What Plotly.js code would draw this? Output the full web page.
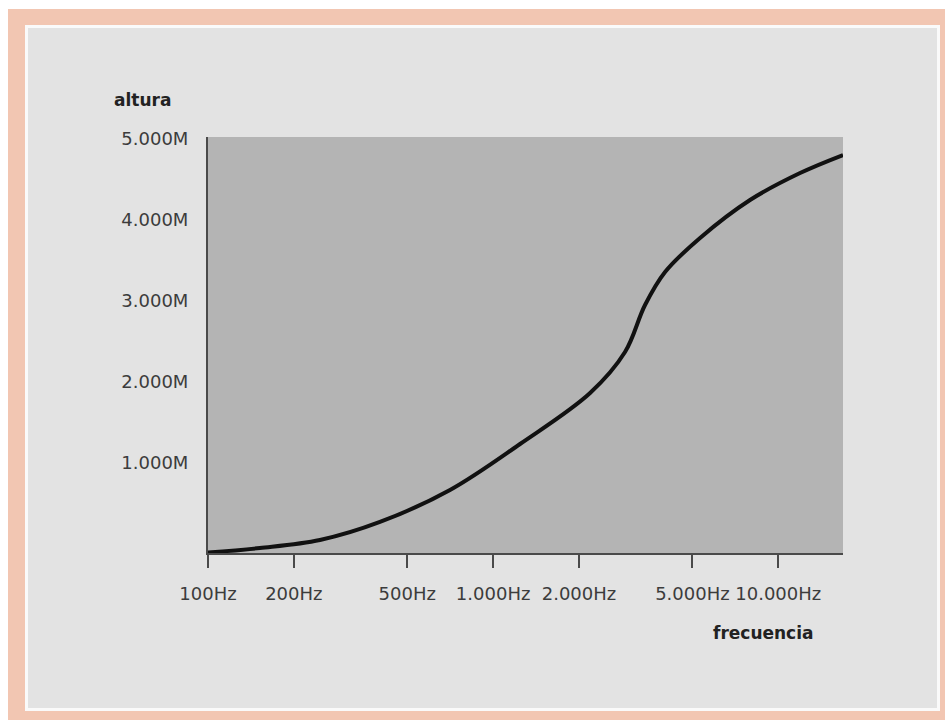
<!DOCTYPE html>
<html>
<head>
<meta charset="utf-8">
<script src="https://cdn.plot.ly/plotly-3.0.1.min.js"></script>
<style>
  html, body { margin: 0; padding: 0; background: #ffffff; }
  #chart { width: 945px; height: 720px; }
</style>
</head>
<body>
<div id="chart"></div>
<script>
// ---- Data ----
const frecuencia = [100, 152, 247, 401, 706, 1243, 2188, 2901, 3410, 4009, 5318, 7962, 11927, 16870];
const alturaM    = [-0.105, -0.049, 0.049, 0.272, 0.667, 1.235, 1.864, 2.370, 2.951, 3.358, 3.778, 4.247, 4.580, 4.802];

const xTickVals = [100, 200, 500, 1000, 2000, 5000, 10000];
const xTickText = ['100Hz', '200Hz', '500Hz', '1.000Hz', '2.000Hz', '5.000Hz', '10.000Hz'];
const yTickVals = [1, 2, 3, 4, 5];
const yTickText = ['1.000M', '2.000M', '3.000M', '4.000M', '5.000M'];

const xTitle = 'frecuencia';
const yTitle = 'altura';

// ---- Layout geometry (pixels) ----
const W = 945, H = 720;
const L = 208, R = 843, T = 137, B = 553;
const pw = R - L, ph = B - T;
const px = x => (x - L) / pw;
const py = y => (B - y) / ph;

function rect(x0, y0, x1, y1, color) {
  return {
    type: 'rect', xref: 'paper', yref: 'paper', layer: 'below',
    x0: px(x0), x1: px(x1), y0: py(y1), y1: py(y0),
    fillcolor: color, line: { width: 0 }
  };
}

const tickFont = { family: 'DejaVu Sans, sans-serif', size: 18, color: '#3c3c3c' };
const titleFont = { family: 'DejaVu Sans, sans-serif', size: 17, color: '#222222', weight: 'bold' };

const trace = {
  x: frecuencia,
  y: alturaM,
  type: 'scatter',
  mode: 'lines',
  line: { color: '#111111', width: 4, shape: 'spline', smoothing: 1 },
  hoverinfo: 'skip',
  showlegend: false
};

const layout = {
  width: W, height: H,
  margin: { l: L, r: W - R, t: T, b: H - B, pad: 0 },
  paper_bgcolor: '#ffffff',
  plot_bgcolor: '#b4b4b4',
  showlegend: false,
  xaxis: {
    type: 'log',
    range: [2, 4.2271],
    tickvals: xTickVals, ticktext: xTickText,
    showline: true, linecolor: '#4a4a4a', linewidth: 2,
    ticks: 'outside', ticklen: 13, tickwidth: 2, tickcolor: '#4a4a4a',
    showgrid: false, zeroline: false,
    tickfont: tickFont,
    ticklabelstandoff: 10,
    fixedrange: true
  },
  yaxis: {
    range: [-0.111, 5.025],
    tickvals: yTickVals, ticktext: yTickText,
    showline: true, linecolor: '#4a4a4a', linewidth: 2,
    ticks: '',
    showgrid: false, zeroline: false,
    tickfont: tickFont,
    ticklabelstandoff: 14,
    fixedrange: true
  },
  shapes: [
    rect(8, 9, 945, 720, '#f2c6b2'),
    rect(25, 25, 940, 711, '#fafafa'),
    rect(28, 28, 937, 708, '#e3e3e3'),
    rect(L, T, R, B, '#b4b4b4')
  ],
  annotations: [
    { text: yTitle, xref: 'paper', yref: 'paper', x: px(142), y: py(100),
      xanchor: 'center', yanchor: 'middle', showarrow: false, font: titleFont },
    { text: xTitle, xref: 'paper', yref: 'paper', x: px(763), y: py(633),
      xanchor: 'center', yanchor: 'middle', showarrow: false, font: titleFont }
  ]
};

Plotly.newPlot('chart', [trace], layout, { displayModeBar: false, staticPlot: true });
</script>
</body>
</html>
